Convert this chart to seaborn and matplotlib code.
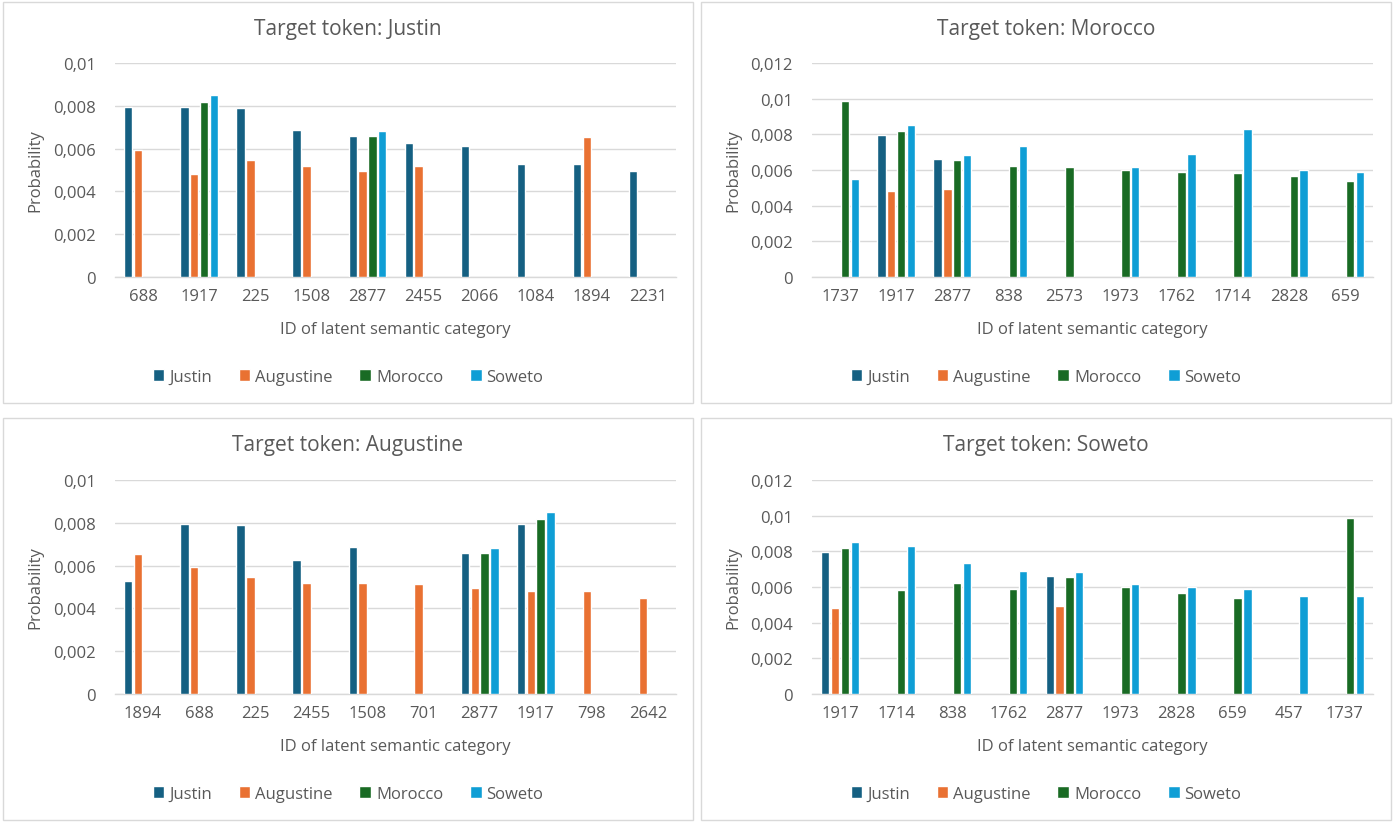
import numpy as np
import pandas as pd
import matplotlib
matplotlib.use("Agg")
import matplotlib.pyplot as plt
from matplotlib.patches import Rectangle
from matplotlib.ticker import MultipleLocator, FuncFormatter
import seaborn as sns

sns.set_theme(style="white")
plt.rcParams['font.family'] = ['Open Sans', 'DejaVu Sans']

series = ["Justin", "Augustine", "Morocco", "Soweto"]
colors = ["#156082", "#E97132", "#196B24", "#0F9ED5"]
nan = np.nan

# Panel 1: Target token Justin
cats_justin = ["688", "1917", "225", "1508", "2877", "2455", "2066", "1084", "1894", "2231"]
justin_justin = [0.00796, 0.00796, 0.00791, 0.00688, 0.00660, 0.00628, 0.00614, 0.00530, 0.00530, 0.00497]
justin_augustine = [0.00595, 0.00483, 0.00548, 0.00520, 0.00497, 0.00520, nan, nan, 0.00656, nan]
justin_morocco = [nan, 0.00819, nan, nan, 0.00660, nan, nan, nan, nan, nan]
justin_soweto = [nan, 0.00852, nan, nan, 0.00684, nan, nan, nan, nan, nan]

# Panel 2: Target token Morocco
cats_morocco = ["1737", "1917", "2877", "838", "2573", "1973", "1762", "1714", "2828", "659"]
morocco_justin = [nan, 0.00794, 0.00662, nan, nan, nan, nan, nan, nan, nan]
morocco_augustine = [nan, 0.00483, 0.00496, nan, nan, nan, nan, nan, nan, nan]
morocco_morocco = [0.00988, 0.00820, 0.00658, 0.00623, 0.00619, 0.00602, 0.00591, 0.00585, 0.00568, 0.00540]
morocco_soweto = [0.00551, 0.00853, 0.00686, 0.00736, nan, 0.00619, 0.00691, 0.00831, 0.00602, 0.00591]

# Panel 3: Target token Augustine
cats_augustine = ["1894", "688", "225", "2455", "1508", "701", "2877", "1917", "798", "2642"]
augustine_justin = [0.00530, 0.00796, 0.00791, 0.00628, 0.00688, nan, 0.00660, 0.00796, nan, nan]
augustine_augustine = [0.00656, 0.00595, 0.00548, 0.00520, 0.00520, 0.00515, 0.00497, 0.00483, 0.00483, 0.00450]
augustine_morocco = [nan, nan, nan, nan, nan, nan, 0.00660, 0.00819, nan, nan]
augustine_soweto = [nan, nan, nan, nan, nan, nan, 0.00684, 0.00852, nan, nan]

# Panel 4: Target token Soweto
cats_soweto = ["1917", "1714", "838", "1762", "2877", "1973", "2828", "659", "457", "1737"]
soweto_justin = [0.00794, nan, nan, nan, 0.00662, nan, nan, nan, nan, nan]
soweto_augustine = [0.00483, nan, nan, nan, 0.00496, nan, nan, nan, nan, nan]
soweto_morocco = [0.00820, 0.00585, 0.00623, 0.00591, 0.00658, 0.00602, 0.00568, 0.00540, nan, 0.00988]
soweto_soweto = [0.00853, 0.00831, 0.00736, 0.00691, 0.00686, 0.00619, 0.00602, 0.00591, 0.00551, 0.00551]

panels = [
    ("Target token: Justin", cats_justin, [justin_justin, justin_augustine, justin_morocco, justin_soweto], 0.01),
    ("Target token: Morocco", cats_morocco, [morocco_justin, morocco_augustine, morocco_morocco, morocco_soweto], 0.012),
    ("Target token: Augustine", cats_augustine, [augustine_justin, augustine_augustine, augustine_morocco, augustine_soweto], 0.01),
    ("Target token: Soweto", cats_soweto, [soweto_justin, soweto_augustine, soweto_morocco, soweto_soweto], 0.012),
]

W, H = 1398, 828
fig = plt.figure(figsize=(W / 100, H / 100), dpi=100)
fig.patch.set_facecolor("white")

text_col = "#595959"
grid_col = "#D9D9D9"

# box geometry in pixels: (left, top, right, bottom)
boxes = [(3, 3, 693, 404), (701, 3, 1391, 404), (3, 419, 693, 821), (701, 419, 1391, 821)]
# plot area in pixels: (left, top, right, bottom)
areas = [(115, 64, 676, 278), (812, 64, 1373, 278), (115, 481, 676, 695), (812, 481, 1373, 695)]


def fx(x):
    return x / W


def fy(y):
    return 1 - y / H


def fmt(v, pos):
    if abs(v) < 1e-12:
        return "0"
    return f"{v:g}".replace(".", ",")


for (title, cats, vals, ymax), box, area in zip(panels, boxes, areas):
    bl, bt, br, bb = box
    fig.patches.append(Rectangle((fx(bl), fy(bb)), fx(br - bl), (bb - bt) / H,
                                 transform=fig.transFigure, fill=False,
                                 edgecolor=grid_col, linewidth=1.0, zorder=0))
    al, at, ar, ab = area
    ax = fig.add_axes([fx(al), fy(ab), fx(ar - al), (ab - at) / H])

    rows = []
    for s, v in zip(series, vals):
        for c, y in zip(cats, v):
            if not np.isnan(y):
                rows.append({"cat": c, "series": s, "value": y})
    df = pd.DataFrame(rows)
    sns.barplot(data=df, x="cat", y="value", hue="series", order=cats,
                hue_order=series, palette=colors, width=0.7, gap=0.15,
                errorbar=None, saturation=1, ax=ax, legend=True, zorder=3)

    ax.set_ylim(0, ymax)
    ax.set_xlim(-0.5, len(cats) - 0.5)
    ax.yaxis.set_major_locator(MultipleLocator(0.002))
    ax.yaxis.set_major_formatter(FuncFormatter(fmt))
    ax.grid(axis="y", color=grid_col, linewidth=1.0, zorder=0)
    ax.set_axisbelow(True)
    for sp in ["top", "right", "left"]:
        ax.spines[sp].set_visible(False)
    ax.spines["bottom"].set_color(grid_col)
    ax.spines["bottom"].set_linewidth(1.0)
    ax.tick_params(axis="both", length=0, labelsize=12, colors=text_col, pad=8)
    ax.tick_params(axis="y", pad=14)
    ax.set_xlabel("")
    ax.set_ylabel("")

    cx = (bl + br) / 2
    fig.text(fx(cx), fy(bt + 27), title, ha="center", va="center", fontsize=15, color=text_col)
    fig.text(fx((al + ar) / 2), fy(ab + 52), "ID of latent semantic category",
             ha="center", va="center", fontsize=12, color=text_col)
    fig.text(fx(bl + 32), fy((at + ab) / 2), "Probability", ha="center", va="center",
             rotation=90, fontsize=12, color=text_col)

    handles, labels = ax.get_legend_handles_labels()
    ax.legend_.remove()
    fig.legend(handles, labels, loc="center", bbox_to_anchor=(fx(cx), fy(ab + 100)),
               ncol=4, frameon=False, fontsize=12, labelcolor=text_col,
               handlelength=0.7, handleheight=0.7, handletextpad=0.3,
               columnspacing=1.6)

fig.savefig("out.png", dpi=100, facecolor="white")
